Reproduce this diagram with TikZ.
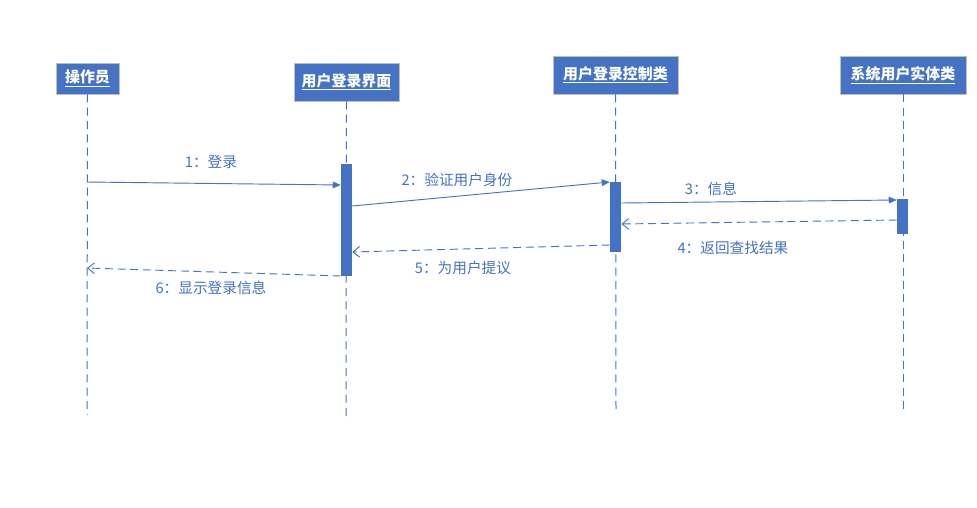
\documentclass[tikz,border=0pt]{standalone}
\usepackage{fontspec}
\newfontfamily\cjk{Noto Sans CJK SC}
\usetikzlibrary{arrows.meta}
\definecolor{umlblue}{HTML}{4472C4}
\definecolor{umlgray}{HTML}{BFBFBF}
\begin{document}
\begin{tikzpicture}[x=0.75pt, y=-0.75pt,
    actor/.style={draw=umlgray, fill=umlblue, text=white, line width=0.6pt,
        font=\cjk\bfseries\fontsize{11.2}{13}\selectfont, inner sep=0pt},
    lifeline/.style={draw=umlblue, line width=0.75pt, dash pattern=on 6pt off 4pt},
    activation/.style={fill=umlblue, draw=none, minimum width=8.25pt, inner sep=0pt},
    callmsg/.style={draw=umlblue, line width=0.7pt, -{Triangle[length=6pt, width=5pt]}},
    retmsg/.style={draw=umlblue, line width=0.7pt, dash pattern=on 6pt off 3.5pt, -{Straight Barb[length=5pt, width=8pt]}},
    msglabel/.style={text=umlblue, font=\cjk\fontsize{11}{13}\selectfont}]
    \useasboundingbox (0,0) rectangle (977,507);

    % Actors (header boxes)
    \node[actor, minimum width=47.25pt, minimum height=23.25pt] (op) at (87.5,78.5) {\underline{操作员}};
    \node[actor, minimum width=78.75pt, minimum height=28.5pt] (ui) at (346.5,82) {\underline{用户登录界面}};
    \node[actor, minimum width=93.75pt, minimum height=28.5pt] (ctl) at (615.5,75) {\underline{用户登录控制类}};
    \node[actor, minimum width=94.5pt, minimum height=28.5pt] (ent) at (903,75) {\underline{系统用户实体类}};

    % Lifelines
    \coordinate (opEnd) at (87,415);
    \coordinate (uiEnd) at (346,418);
    \coordinate (ctlEnd) at (616,412);
    \coordinate (entEnd) at (903,412);
    \draw[lifeline] (op.south) -- (opEnd);
    \draw[lifeline] (ui.south) -- (uiEnd);
    \draw[lifeline] (ctl.south) -- (ctlEnd);
    \draw[lifeline] (ent.south) -- (entEnd);

    % Activation bars
    \node[activation, minimum height=84pt] (uiAct) at (346.5,220) {};
    \node[activation, minimum height=52.5pt] (ctlAct) at (615.5,217) {};
    \node[activation, minimum height=26.25pt] (entAct) at (902.5,216.5) {};

    % Message end points
    \coordinate (m1s) at (87,182);
    \coordinate (m1e) at (uiAct.west |- 0,185);
    \coordinate (m2s) at (uiAct.east |- 0,206);
    \coordinate (m2e) at (ctlAct.west |- 0,182);
    \coordinate (m3s) at (ctlAct.east |- 0,203);
    \coordinate (m3e) at (entAct.west |- 0,200);
    \coordinate (m4s) at (entAct.west |- 0,220);
    \coordinate (m4e) at (ctlAct.east |- 0,224);
    \coordinate (m5s) at (ctlAct.west |- 0,245);
    \coordinate (m5e) at (uiAct.east |- 0,252);
    \coordinate (m6s) at (uiAct.west |- 0,276);
    \coordinate (m6e) at (87,268);

    % Messages
    \draw[callmsg] (m1s) -- (m1e);
    \draw[callmsg] (m2s) -- (m2e);
    \draw[callmsg] (m3s) -- (m3e);
    \draw[retmsg] (m4s) -- (m4e);
    \draw[retmsg] (m5s) -- (m5e);
    \draw[retmsg] (m6s) -- (m6e);

    % Message labels
    \node[msglabel] (l1) at (211,162) {1：登录};
    \node[msglabel] (l2) at (457,180) {2：验证用户身份};
    \node[msglabel] (l3) at (711,189) {3：信息};
    \node[msglabel] (l4) at (733,248) {4：返回查找结果};
    \node[msglabel] (l5) at (463,268) {5：为用户提议};
    \node[msglabel] (l6) at (211,288) {6：显示登录信息};
\end{tikzpicture}
\end{document}
